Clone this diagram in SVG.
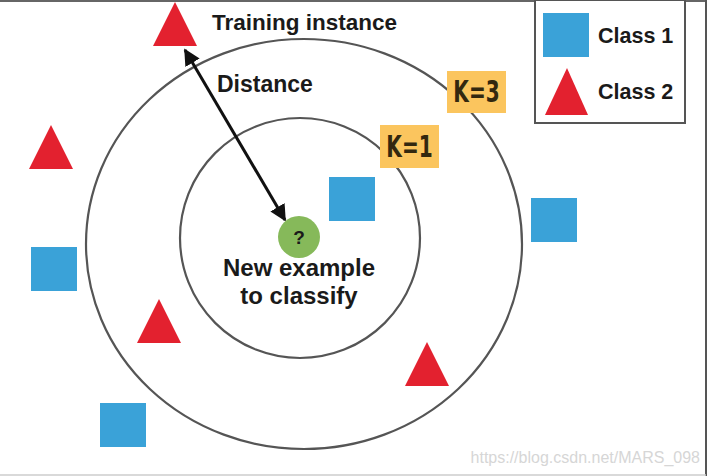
<svg xmlns="http://www.w3.org/2000/svg" width="710" height="476" viewBox="0 0 710 476">
<style>
.ring{fill:none;stroke:#555;stroke-width:2.2}
.c1{fill:#3aa2d8}
.c2{fill:#e3212f}
.lbl{font-family:"Liberation Sans",Arial,sans-serif;font-weight:bold;fill:#1a1a1a}
.k{fill:#fbc55e}
.kt{font-family:"DejaVu Sans Condensed","DejaVu Sans",sans-serif;font-stretch:condensed;font-weight:bold;fill:#33280f;font-size:31px}
</style>
<defs>
<marker id="ah" viewBox="0 0 10 10" refX="9" refY="5" markerWidth="5.5" markerHeight="5.5" orient="auto-start-reverse" markerUnits="strokeWidth">
<path d="M0,0 L10,5 L0,10 z" fill="#111"/>
</marker>
</defs>
<rect x="0" y="0" width="710" height="476" fill="#fff"/>
<line x1="0" y1="1" x2="707" y2="1" stroke="#666" stroke-width="2"/>
<line x1="706" y1="0" x2="706" y2="476" stroke="#555" stroke-width="2"/>
<line x1="0" y1="475" x2="706" y2="475" stroke="#ccc" stroke-width="1.5"/>
<g id="rings">
<ellipse id="outer-k3" class="ring" cx="304" cy="244" rx="218" ry="205"/>
<circle id="inner-k1" class="ring" cx="300" cy="238" r="120"/>
</g>
<g id="legend">
<rect x="535" y="0" width="150" height="123" fill="#fff" stroke="#555" stroke-width="2"/>
<rect class="c1" x="543" y="13" width="46" height="44"/>
<text class="lbl" x="598" y="43" font-size="21.5">Class 1</text>
<polygon class="c2" points="567,68 588,115 545,115"/>
<text class="lbl" x="598" y="99" font-size="21.5">Class 2</text>
</g>
<g id="training-instance">
<polygon class="c2" points="175,2 197,46 153,46"/>
<text class="lbl" x="212" y="30" font-size="22.5">Training instance</text>
</g>
<g id="points">
<polygon class="c2" points="51,125 73,169 29,169"/>
<rect class="c1" x="31" y="247" width="46" height="44"/>
<polygon class="c2" points="159,299 181,343 137,343"/>
<rect class="c1" x="100" y="403" width="46" height="44"/>
<rect class="c1" x="329" y="177" width="46" height="44"/>
<rect class="c1" x="531" y="198" width="46" height="44"/>
<polygon class="c2" points="427,342 449,386 405,386"/>
</g>
<g id="k3">
<rect class="k" x="447" y="71" width="59" height="42"/>
<text class="kt" transform="translate(476.5,102) scale(0.72,1)" text-anchor="middle">K=3</text>
</g>
<g id="k1">
<rect class="k" x="380" y="125" width="59" height="43"/>
<text class="kt" transform="translate(409.5,157) scale(0.72,1)" text-anchor="middle">K=1</text>
</g>
<g id="connectors">
<line x1="185" y1="50" x2="285" y2="220" stroke="#111" stroke-width="3" marker-start="url(#ah)" marker-end="url(#ah)"/>
<text class="lbl" x="217" y="92" font-size="23">Distance</text>
</g>
<g id="new-example">
<circle cx="299" cy="237" r="21" fill="#86b95a"/>
<text class="lbl" x="299" y="244" font-size="19" text-anchor="middle" fill="#222">?</text>
<text class="lbl" x="299" y="276" font-size="24" text-anchor="middle">New example</text>
<text class="lbl" x="299" y="304" font-size="24" text-anchor="middle">to classify</text>
</g>
<text x="700" y="463" font-family="Liberation Sans,Arial,sans-serif" font-size="16" fill="#d6d6d6" text-anchor="end">https://blog.csdn.net/MARS_098</text>
</svg>
